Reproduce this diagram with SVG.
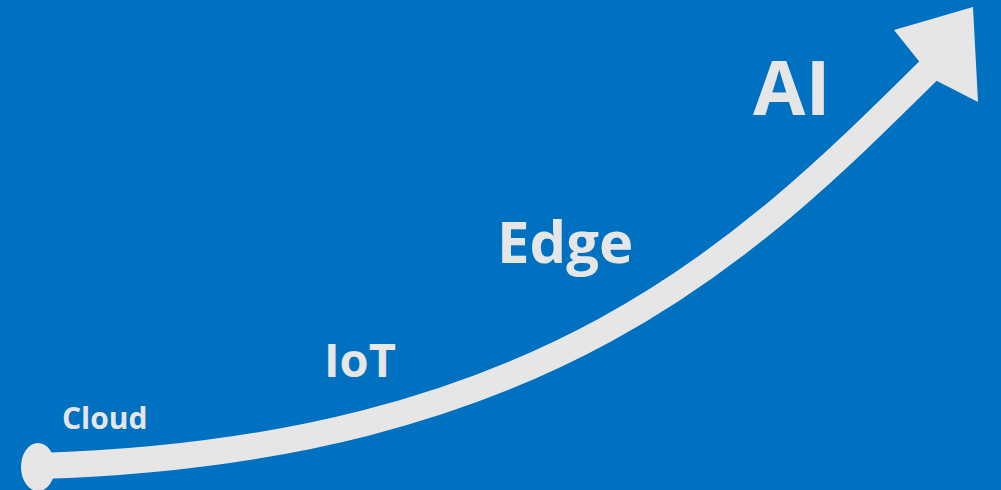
<svg xmlns="http://www.w3.org/2000/svg" width="1001" height="490" viewBox="0 0 1001 490">
<style>
.lbl{font-family:"Open Sans","Noto Sans","Liberation Sans",sans-serif;font-weight:bold;fill:#e6e6e6}
.shaft{fill:none;stroke:#e6e6e6;stroke-width:26}
.head{fill:#e6e6e6}
</style>
<rect width="1001" height="490" fill="#0070c0"/>
<g id="connectors">
<ellipse cx="38" cy="467" rx="17" ry="24" class="head"/>
<path class="shaft" d="M40,466 C545,450 747,250 925,74 L950,49"/>
<polygon class="head" points="973,7 894,30 918,60 928,70 937,81 978,102"/>
</g>
<g id="cloud"><text class="lbl" x="62" y="429" font-size="30">Cloud</text></g>
<g id="iot"><text class="lbl" x="324" y="377" font-size="47">IoT</text></g>
<g id="edge"><text class="lbl" x="497" y="263" font-size="58">Edge</text></g>
<g id="ai"><text class="lbl" x="753" y="115" font-size="76">AI</text></g>
</svg>
